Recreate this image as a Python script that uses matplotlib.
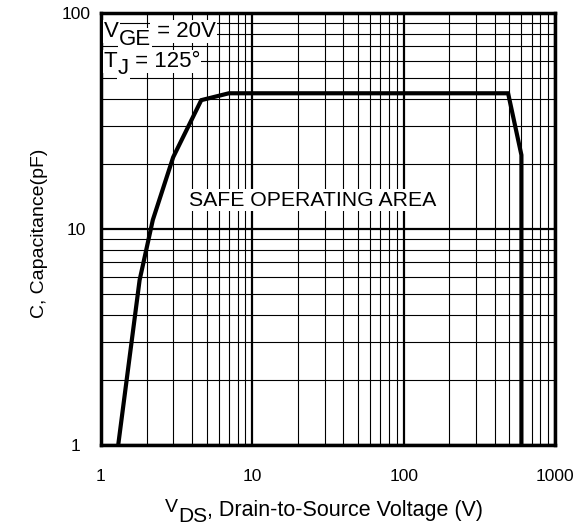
import numpy as np
import matplotlib
matplotlib.use("Agg")
import matplotlib.pyplot as plt
from matplotlib.ticker import FixedLocator, LogLocator, NullFormatter
from matplotlib.transforms import IdentityTransform

plt.rcParams['font.family'] = ['Liberation Sans', 'DejaVu Sans']

# safe operating area boundary
vds = [1.3, 1.8, 2.2, 3.0, 4.6, 7.0, 490, 600, 600]
cap = [1.0, 5.8, 11.0, 21.5, 39.5, 42.5, 42.5, 22.0, 1.0]

x_ticks = [1, 10, 100, 1000]
x_labels = ['1', '10', '100', '1000']
y_ticks = [1, 10, 100]
y_labels = ['1', '10', '100']

W, H = 585, 529
fig = plt.figure(figsize=(W / 100, H / 100), dpi=100)
ax = fig.add_axes([0.1726, 0.1588, 0.7761, 0.8166])

ax.set_xscale('log')
ax.set_yscale('log')
ax.set_xlim(1, 1000)
ax.set_ylim(1, 100)

# grid
ax.xaxis.set_major_locator(FixedLocator(x_ticks))
ax.yaxis.set_major_locator(FixedLocator(y_ticks))
ax.xaxis.set_minor_locator(LogLocator(base=10, subs=np.arange(2, 10)))
ax.yaxis.set_minor_locator(LogLocator(base=10, subs=np.arange(2, 10)))
ax.xaxis.set_minor_formatter(NullFormatter())
ax.yaxis.set_minor_formatter(NullFormatter())
ax.set_xticklabels(x_labels)
ax.set_yticklabels(y_labels, ha='center')
ax.grid(True, which='major', color='black', linewidth=1.6)
ax.grid(True, which='minor', color='black', linewidth=0.8)
ax.set_axisbelow(True)
ax.tick_params(which='both', length=0, labelsize=12.5)
ax.tick_params(axis='x', pad=17)
ax.tick_params(axis='y', pad=18)

for s in ax.spines.values():
    s.set_linewidth(2.5)

ax.plot(vds, cap, color='black', linewidth=3, solid_joinstyle='miter', zorder=5)

ax.text(25.2, 13.6, 'SAFE OPERATING AREA', fontsize=15.3, ha='center', va='center',
        bbox=dict(facecolor='white', edgecolor='none', pad=1), zorder=4)

renderer = fig.canvas.get_renderer()


def rich_text(x, y, runs, box=False):
    # runs: (text, size, baseline shift in px downwards); x, y in px from top-left
    x0 = x
    for s, size, dy in runs:
        kw = {}
        if box:
            kw['bbox'] = dict(facecolor='white', edgecolor='none', pad=0.8)
        t = ax.text(x0, H - y - dy, s, fontsize=size, va='baseline', ha='left',
                    transform=IdentityTransform(), zorder=4, clip_on=False, **kw)
        x0 += t.get_window_extent(renderer).width


rich_text(104, 37, [('V', 16, 0), ('GE', 16, 8), (' = 20V', 16, 0)], box=True)
rich_text(104, 67, [('T', 16, 0), ('J', 16, 7), (' = 125°', 16, 0)], box=True)
rich_text(165, 512, [('V', 14, 0), ('DS', 15, 10), (', Drain-to-Source Voltage (V)', 15.5, 4)])

fig.text(0.068, 0.559, 'C, Capacitance(pF)', fontsize=14, rotation=90,
         ha='center', va='center')

fig.savefig('out.png', dpi=100)
